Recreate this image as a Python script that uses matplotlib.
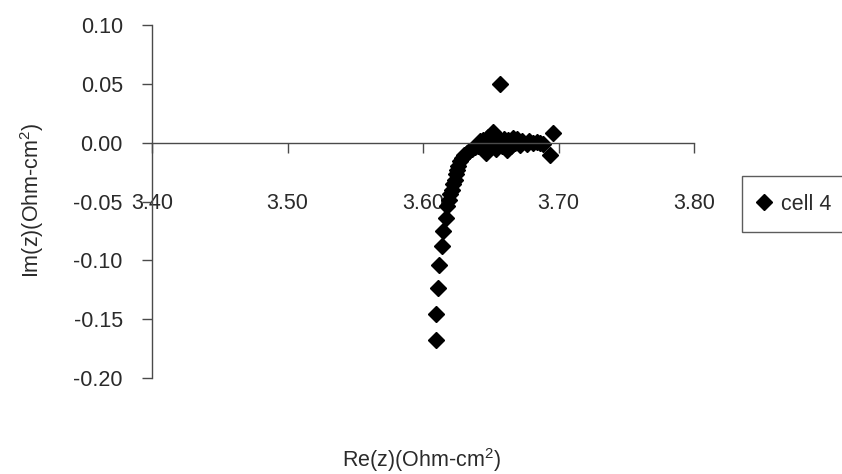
import matplotlib
matplotlib.use("Agg")
import matplotlib.pyplot as plt

plt.rcParams['font.family'] = ['Liberation Sans', 'DejaVu Sans']
plt.rcParams['mathtext.fontset'] = 'custom'
plt.rcParams['mathtext.rm'] = 'Liberation Sans'
plt.rcParams['mathtext.it'] = 'Liberation Sans'

# impedance data, cell 4
re_branch = [3.6096, 3.6096, 3.6111, 3.6120, 3.6140, 3.6150, 3.6172, 3.6180,
             3.6190, 3.6199, 3.6212, 3.6220, 3.6236, 3.6245, 3.6253, 3.6261,
             3.6273, 3.6286, 3.6305, 3.6322, 3.6340, 3.6359, 3.6385, 3.6408,
             3.6430, 3.6458]
im_branch = [-0.1675, -0.1454, -0.1236, -0.1043, -0.0882, -0.0754, -0.0641, -0.0541,
             -0.0485, -0.0440, -0.0400, -0.0355, -0.0315, -0.0270, -0.0230, -0.0201,
             -0.0159, -0.0130, -0.0105, -0.0088, -0.0070, -0.0054, -0.0040, -0.0026,
             -0.0015, -0.0009]

re_tail = [3.6420, 3.6440, 3.6465, 3.6470, 3.6482, 3.6500, 3.6519, 3.6525, 3.6540,
           3.6550, 3.6568, 3.6580, 3.6600, 3.6618, 3.6630, 3.6650, 3.6665, 3.6680,
           3.6692, 3.6716, 3.6730, 3.6765, 3.6780, 3.6810, 3.6839, 3.6865, 3.6888,
           3.6962, 3.6937, 3.6570]
im_tail = [0.0010, 0.0020, -0.0090, 0.0030, 0.0050, -0.0040, 0.0090, 0.0020, -0.0050,
           0.0040, 0.0010, -0.0030, 0.0030, -0.0060, 0.0020, -0.0030, 0.0040, 0.0000,
           0.0030, -0.0020, 0.0010, -0.0010, 0.0010, -0.0005, 0.0005, 0.0000, -0.0010,
           0.0082, -0.0102, 0.0500]

re_z = re_branch + re_tail
im_z = im_branch + im_tail

x_ticks = [3.40, 3.50, 3.60, 3.70, 3.80]
y_ticks = [0.10, 0.05, 0.00, -0.05, -0.10, -0.15, -0.20]

fs = 15.5
ink = '#2a2a2a'

fig = plt.figure(figsize=(8.42, 4.74), dpi=100)
ax = fig.add_axes([152 / 842, 1 - 378 / 474, 542 / 842, 353 / 474])

ax.plot(re_z, im_z, linestyle='none', marker='D', ms=8.5, color='black',
        label='cell 4', clip_on=False)

ax.set_xlim(3.40, 3.80)
ax.set_ylim(-0.20, 0.10)

ax.spines['top'].set_visible(False)
ax.spines['right'].set_visible(False)
ax.spines['bottom'].set_position(('data', 0))
for s in ('left', 'bottom'):
    ax.spines[s].set_color('#4a4a4a')
    ax.spines[s].set_linewidth(1.0)

ax.set_xticks(x_ticks)
ax.set_xticklabels([f'{v:.2f}' for v in x_ticks])
ax.set_yticks(y_ticks)
ax.set_yticklabels([f'{v:.2f}' for v in y_ticks])
ax.tick_params(axis='x', direction='out', length=7, width=1, color='#4a4a4a',
               pad=29, labelsize=fs, labelcolor=ink)
ax.tick_params(axis='y', direction='out', length=7, width=1, color='#4a4a4a',
               pad=14, labelsize=fs, labelcolor=ink)

fig.text(32 / 842, 1 - 200 / 474, 'Im(z)(Ohm-cm$^2$)', rotation=90,
         ha='center', va='center', fontsize=fs, color=ink)
fig.text(422 / 842, 1 - 460 / 474, 'Re(z)(Ohm-cm$^2$)',
         ha='center', va='center', fontsize=fs, color=ink)

leg = fig.legend(loc='center left', bbox_to_anchor=(742 / 842, 1 - 204 / 474),
                 fontsize=fs, frameon=True, fancybox=False, borderaxespad=0,
                 borderpad=0.8, handlelength=0.4, handletextpad=0.6,
                 labelcolor=ink)
leg.get_frame().set_edgecolor('#333333')
leg.get_frame().set_linewidth(1.0)

fig.savefig('out.png', dpi=100)
